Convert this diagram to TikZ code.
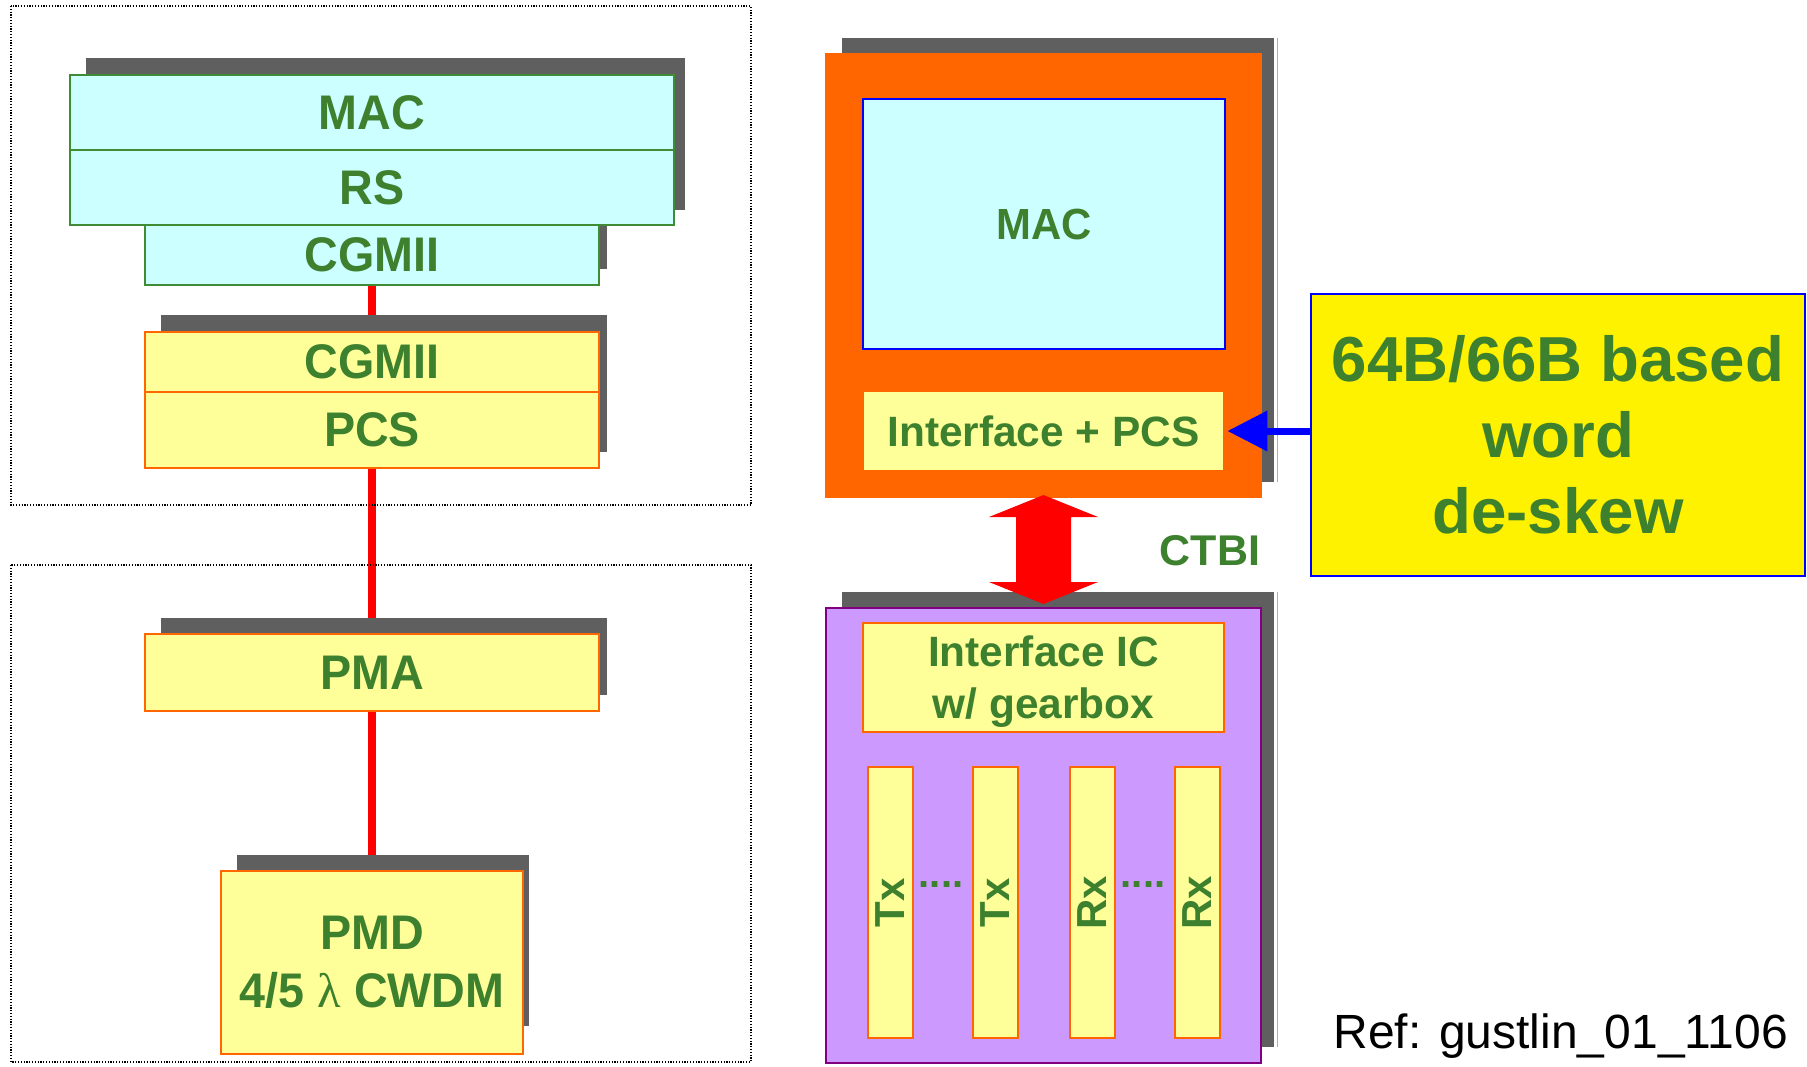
\documentclass[tikz,border=0pt]{standalone}
\usepackage{fontspec}
\setmainfont{Liberation Sans}
\newfontfamily\narrowsans[FakeStretch=0.96]{Liberation Sans}
\newfontfamily\lamfont{Liberation Serif}
\usetikzlibrary{arrows.meta}
\pgfdeclarelayer{background}
\pgfsetlayers{background,main}
\definecolor{txtgreen}{RGB}{61,128,46}
\definecolor{bordergreen}{RGB}{64,140,52}
\definecolor{cyanfill}{HTML}{CCFFFF}
\definecolor{lightyellow}{HTML}{FFFF99}
\definecolor{orangefill}{HTML}{FF6600}
\definecolor{purplefill}{HTML}{CC99FF}
\definecolor{purpleborder}{HTML}{800080}
\definecolor{shadowgray}{HTML}{5F5F5F}
\definecolor{edgegray}{HTML}{B0B0B0}
\tikzset{
  shadowbox/.style={fill=shadowgray, draw=none, inner sep=0pt},
  cyanbox/.style={fill=cyanfill, draw=bordergreen, line width=1pt, inner sep=0pt, align=center,
    text=txtgreen, font=\narrowsans\bfseries\fontsize{24.3}{29}\selectfont},
  yellowbox/.style={fill=lightyellow, draw=orangefill, line width=1pt, inner sep=0pt, align=center,
    text=txtgreen, font=\narrowsans\bfseries\fontsize{24.3}{29}\selectfont},
  lanebox/.style={fill=lightyellow, draw=orangefill, line width=1pt, inner sep=0pt,
    rotate=90, minimum width=135.5pt, minimum height=22.5pt,
    text=txtgreen, font=\bfseries\fontsize{21}{25}\selectfont},
  dotsnode/.style={inner sep=0pt, text=txtgreen, font=\bfseries\fontsize{20}{24}\selectfont, anchor=base},
  redline/.style={draw=red, line width=3.8pt},
  layerframe/.style={draw=black, line width=0.6pt, dash pattern=on 0.6pt off 0.8pt}
}
\begin{document}
\begin{tikzpicture}[x=0.5pt, y=-0.5pt]
\useasboundingbox (0,0) rectangle (1807,1066);

% dotted layer frames
\draw[layerframe] (11,6) rectangle (751,505);
\draw[layerframe] (11,565) rectangle (751,1062);

% ---------- left stack ----------
\node[shadowbox, minimum width=299.8pt, minimum height=76pt] (macLs) at (385.4,134) {};
\node[shadowbox, minimum width=222.8pt, minimum height=34.5pt] (cgmiiCs) at (384,234.5) {};
\node[cyanbox, minimum width=226.7pt, minimum height=30pt] (cgmiiC) at (372,255) {CGMII};
\node[cyanbox, minimum width=302.3pt, minimum height=37.5pt] (macL) at (372,112.5) {MAC};
\node[cyanbox, minimum width=302.3pt, minimum height=37.5pt] (rs) at (372,187.5) {RS};

\node[shadowbox, minimum width=222.8pt, minimum height=68.5pt] (pcss) at (384,383.5) {};
\node[yellowbox, minimum width=226.7pt, minimum height=30pt] (cgmiiY) at (372,362) {CGMII};
\node[yellowbox, minimum width=226.7pt, minimum height=38pt] (pcs) at (372,430) {PCS};

\node[shadowbox, minimum width=222.8pt, minimum height=38.5pt] (pmas) at (384,656.5) {};
\node[yellowbox, minimum width=226.7pt, minimum height=38.5pt] (pma) at (372,672.5) {PMA};

\node[shadowbox, minimum width=146.2pt, minimum height=85.5pt] (pmds) at (383,940.5) {};
\node[yellowbox, minimum width=151.2pt, minimum height=91.5pt] (pmd) at (372,962.5)
  {PMD\\4/5 {\lamfont\mdseries λ} CWDM};

\begin{pgfonlayer}{background}
  \draw[redline] (cgmiiC.south) -- (cgmiiY.north);
  \draw[redline] (pcs.south) -- (pma.north);
  \draw[redline] (pma.south) -- (pmd.north);
\end{pgfonlayer}

% ---------- right: host chip ----------
\node[shadowbox, minimum width=216pt, minimum height=222pt] (hosts) at (1058,260) {};
\draw[edgegray, line width=0.5pt] (1277,38) -- (1277,482);
\node[fill=orangefill, draw=none, inner sep=0pt, minimum width=218.5pt, minimum height=222.5pt] (host) at (1043.5,275.5) {};
\node[fill=cyanfill, draw=blue, line width=1pt, inner sep=0pt, minimum width=181pt, minimum height=125pt,
  text=txtgreen, font=\narrowsans\bfseries\fontsize{21.8}{26}\selectfont] (macR) at (1044,224) {MAC};
\node[fill=lightyellow, draw=none, inner sep=0pt, minimum width=179.5pt, minimum height=39pt,
  text=txtgreen, font=\bfseries\fontsize{21.2}{25}\selectfont] (ifpcs) at (1043.5,431) {Interface + PCS};

% ---------- right: module ----------
\node[shadowbox, minimum width=216pt, minimum height=227.5pt] (mods) at (1058,819.5) {};
\draw[edgegray, line width=0.5pt] (1277,592) -- (1277,1047);
\node[fill=purplefill, draw=purpleborder, line width=1pt, inner sep=0pt, minimum width=217.5pt, minimum height=227.5pt] (module) at (1043.5,835.5) {};
\node[fill=lightyellow, draw=orangefill, line width=1pt, inner sep=0pt, align=center, text depth=0pt,
  minimum width=180.5pt, minimum height=54.5pt, text=txtgreen,
  font=\bfseries\fontsize{21.2}{26}\selectfont] (ific) at (1043.5,677.5)
  {Interface IC\\w/ gearbox};

\node[lanebox] (tx1) at (890.5,902.5) {Tx};
\node[lanebox] (tx2) at (995,902.5) {Tx};
\node[lanebox] (rx1) at (1092,902.5) {Rx};
\node[lanebox] (rx2) at (1197,902.5) {Rx};
\node[dotsnode] (txdots) at (941,887) {....};
\node[dotsnode] (rxdots) at (1143,887) {....};

% CTBI double arrow
\fill[red] (1043.5,495) -- (1098,517) -- (1071,517) -- (1071,582) -- (1098,582) -- (1043.5,604)
  -- (989,582) -- (1016,582) -- (1016,517) -- (989,517) -- cycle;
\node[inner sep=0pt, text=txtgreen, font=\bfseries\fontsize{21.5}{26}\selectfont] (ctbi) at (1210,551) {CTBI};

% de-skew box
\node[fill=yellow, draw=blue, line width=1pt, inner sep=0pt, minimum width=247pt, minimum height=141pt,
  align=center, text=txtgreen, font=\bfseries\fontsize{31.8}{38}\selectfont] (deskew) at (1558,435)
  {64B/66B based\\word\\de-skew};
\draw[blue, line width=3.5pt, -{Triangle[length=20pt,width=19.5pt]}, shorten >=2pt]
  (ifpcs.east -| deskew.west) -- (ifpcs.east);

% reference
\node[anchor=base west, inner sep=0pt, font=\fontsize{24}{28}\selectfont] (ref) at (1333,1048) {Ref: gustlin\_01\_1106};
\end{tikzpicture}
\end{document}
